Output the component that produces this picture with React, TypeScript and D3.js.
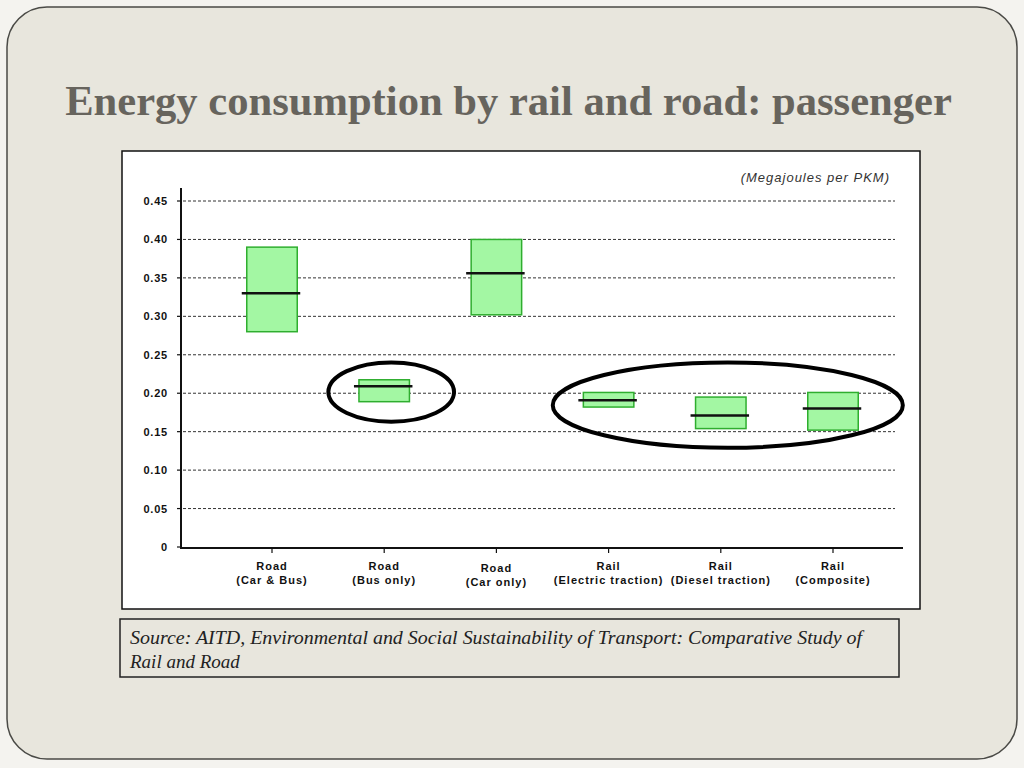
import { useMemo } from "react";
import * as d3 from "d3";

const WIDTH = 1024;
const HEIGHT = 768;

// data (Megajoules per PKM)
const categoryLine1 = ["Road", "Road", "Road", "Rail", "Rail", "Rail"];
const categoryLine2 = ["(Car & Bus)", "(Bus only)", "(Car only)", "(Electric traction)", "(Diesel traction)", "(Composite)"];
const lowValues = [0.28, 0.189, 0.302, 0.182, 0.154, 0.152];
const highValues = [0.39, 0.2175, 0.4, 0.201, 0.195, 0.201];
const midValues = [0.33, 0.209, 0.356, 0.191, 0.171, 0.18];
const yTicks = [0, 0.05, 0.1, 0.15, 0.2, 0.25, 0.3, 0.35, 0.4, 0.45];

// highlighted groups: first/last category index, value range
const ringFrom = [1, 3];
const ringTo = [1, 5];
const ringLow = [0.163, 0.129];
const ringHigh = [0.24, 0.24];

const TITLE = "Energy consumption by rail and road: passenger";
const UNIT = "(Megajoules per PKM)";
const SOURCE_1 = "Source: AITD, Environmental and Social Sustainability of Transport: Comparative Study of";
const SOURCE_2 = "Rail and Road";

const FRAME = { left: 122, top: 151, right: 920, bottom: 609 };
const PLOT = { left: 181, right: 895, top: 201, bottom: 547 };

export default function App() {
  const keys = categoryLine2.map((d, i) => i);

  const xScale = useMemo(
    () => d3.scaleBand<number>().domain(keys).range([215.9, 889.1]),
    []
  );
  const yScale = useMemo(
    () => d3.scaleLinear().domain([0, 0.45]).range([PLOT.bottom, PLOT.top]),
    []
  );

  const step = xScale.step();
  const boxW = step * 0.45;
  const cx = (i: number) => (xScale(i) ?? 0) + xScale.bandwidth() / 2;

  const sans = "'Liberation Sans', Arial, sans-serif";
  const serif = "'Liberation Serif', 'Times New Roman', serif";

  return (
    <svg
      width={WIDTH}
      height={HEIGHT}
      style={{ position: "absolute", left: 0, top: 0, display: "block" }}
    >
      <rect x={0} y={0} width={WIDTH} height={HEIGHT} fill="#f4f3ef" />
      <rect
        x={7}
        y={7}
        width={1010}
        height={752}
        rx={40}
        ry={40}
        fill="#e8e6dd"
        stroke="#4a4a46"
        strokeWidth={1.5}
      />
      <text
        x={508.5}
        y={115}
        textAnchor="middle"
        fontFamily={serif}
        fontWeight="bold"
        fontSize={42.6}
        fill="#67645d"
      >
        {TITLE}
      </text>

      {/* chart frame */}
      <rect
        x={FRAME.left}
        y={FRAME.top}
        width={FRAME.right - FRAME.left}
        height={FRAME.bottom - FRAME.top}
        fill="#ffffff"
        stroke="#111"
        strokeWidth={1.5}
      />
      <text
        x={890}
        y={182}
        textAnchor="end"
        fontFamily={sans}
        fontStyle="italic"
        fontSize={13}
        letterSpacing={1}
        fill="#333"
      >
        {UNIT}
      </text>

      {/* gridlines + y ticks */}
      {yTicks.map((t) => (
        <g key={t}>
          {t > 0 && (
            <line
              x1={PLOT.left + 2}
              x2={PLOT.right}
              y1={yScale(t)}
              y2={yScale(t)}
              stroke="#333"
              strokeWidth={1}
              strokeDasharray="3,2"
            />
          )}
          <line x1={PLOT.left - 4} x2={PLOT.left} y1={yScale(t)} y2={yScale(t)} stroke="#111" strokeWidth={1.2} />
          <text
            x={168}
            y={yScale(t) + 4}
            textAnchor="end"
            fontFamily={sans}
            fontWeight="bold"
            fontSize={11}
            letterSpacing={0.8}
            fill="#111"
          >
            {t === 0 ? "0" : d3.format(".2f")(t)}
          </text>
        </g>
      ))}

      {/* boxes */}
      {keys.map((i) => (
        <g key={i}>
          <rect
            x={cx(i) - boxW / 2}
            y={yScale(highValues[i])}
            width={boxW}
            height={yScale(lowValues[i]) - yScale(highValues[i])}
            fill="#a3f7a3"
            stroke="#2fae2f"
            strokeWidth={1.5}
          />
          <line
            x1={cx(i) - boxW / 2 - 5}
            x2={cx(i) + boxW / 2 + 3}
            y1={yScale(midValues[i])}
            y2={yScale(midValues[i])}
            stroke="#111"
            strokeWidth={2.5}
          />
        </g>
      ))}

      {/* axes */}
      <line x1={PLOT.left} x2={PLOT.left} y1={188} y2={PLOT.bottom + 1} stroke="#111" strokeWidth={2} />
      <line x1={PLOT.left - 1} x2={903} y1={PLOT.bottom + 1} y2={PLOT.bottom + 1} stroke="#111" strokeWidth={2} />
      {keys.map((i) => (
        <g key={i}>
          <line x1={cx(i)} x2={cx(i)} y1={PLOT.bottom + 1} y2={PLOT.bottom + 6} stroke="#111" strokeWidth={1.2} />
          <text
            x={cx(i)}
            y={i === 2 ? 572 : 570}
            textAnchor="middle"
            fontFamily={sans}
            fontWeight="bold"
            fontSize={11}
            letterSpacing={1}
            fill="#111"
          >
            <tspan x={cx(i)}>{categoryLine1[i]}</tspan>
            <tspan x={cx(i)} dy={14}>
              {categoryLine2[i]}
            </tspan>
          </text>
        </g>
      ))}

      {/* highlight rings */}
      {ringFrom.map((f, k) => {
        const x0 = cx(f);
        const x1 = cx(ringTo[k]);
        const pad = step * 0.56;
        return (
          <ellipse
            key={k}
            cx={(x0 + x1) / 2 + 7}
            cy={(yScale(ringLow[k]) + yScale(ringHigh[k])) / 2}
            rx={(x1 - x0) / 2 + pad}
            ry={(yScale(ringLow[k]) - yScale(ringHigh[k])) / 2}
            fill="none"
            stroke="#000"
            strokeWidth={4}
          />
        );
      })}

      {/* source box */}
      <rect x={120} y={619} width={779} height={58} fill="none" stroke="#222" strokeWidth={1.5} />
      <text x={130} y={644} fontFamily={serif} fontStyle="italic" fontSize={19} textLength={732} lengthAdjust="spacingAndGlyphs" fill="#222">
        {SOURCE_1}
      </text>
      <text x={130} y={668} fontFamily={serif} fontStyle="italic" fontSize={19} fill="#222">
        {SOURCE_2}
      </text>
    </svg>
  );
}
